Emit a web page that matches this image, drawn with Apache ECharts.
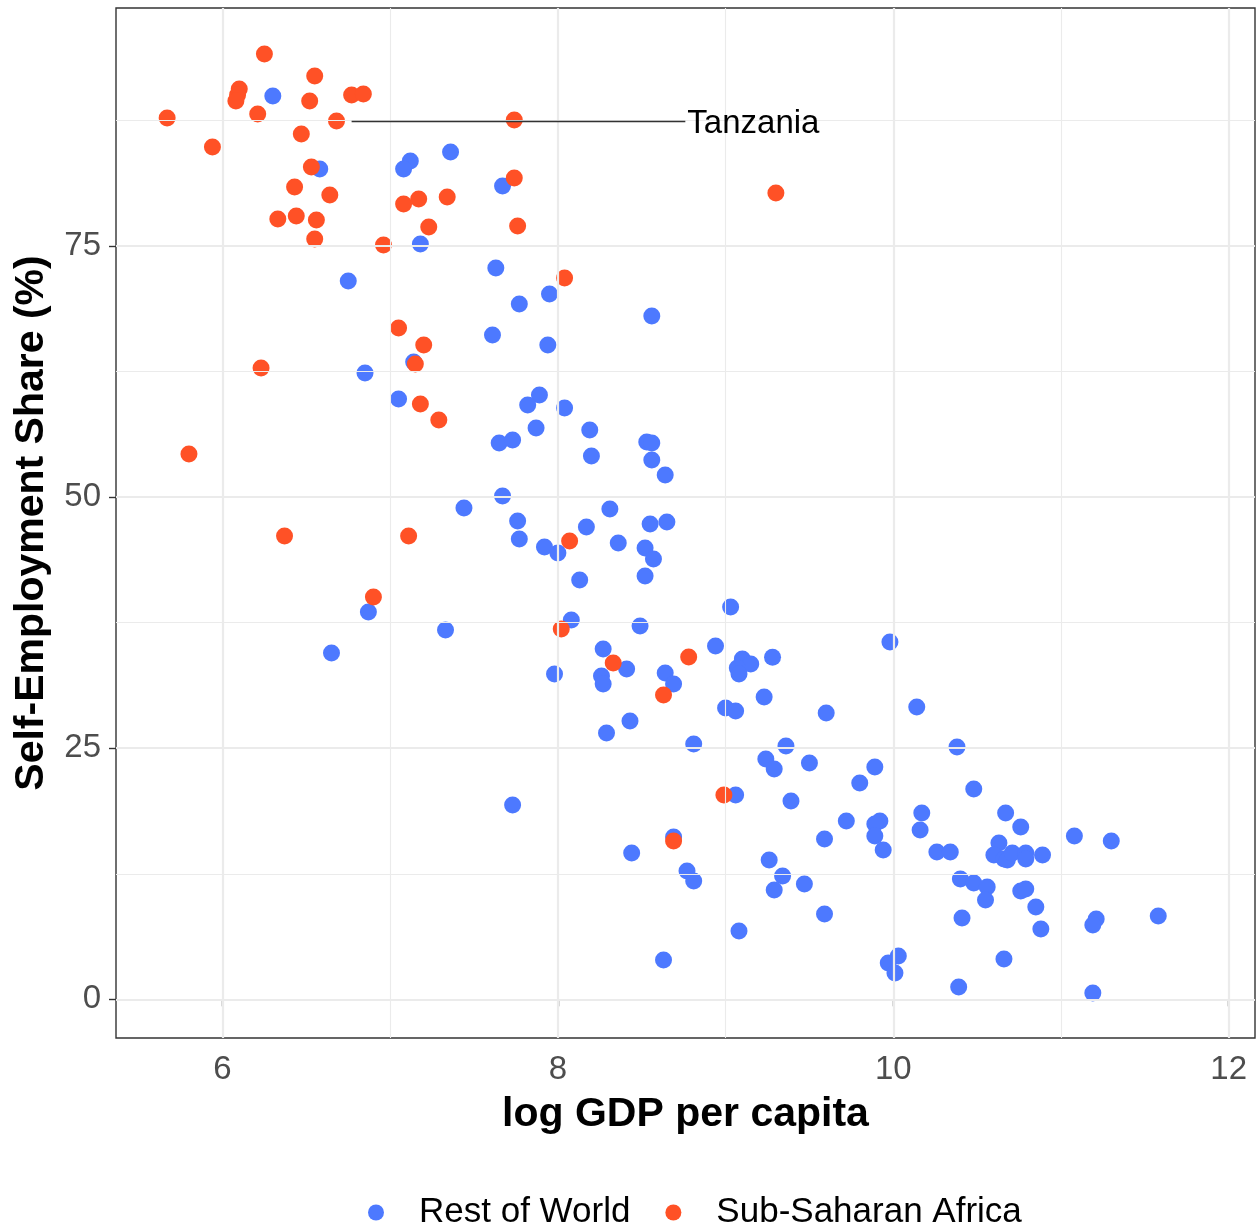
<!DOCTYPE html>
<html>
<head>
<meta charset="utf-8">
<script src="https://cdn.jsdelivr.net/npm/echarts@6/dist/echarts.min.js"></script>
<style>
  html, body { margin: 0; padding: 0; background: #ffffff; }
  #chart { width: 1257px; height: 1230px; }
</style>
</head>
<body>
<div id="chart"></div>
<script>
// [log GDP per capita, self-employment share %]
const subSaharanAfrica = [
  [5.67, 87.74], [5.94, 84.86], [6.25, 94.12], [6.10, 90.63], [6.09, 90.03],
  [6.08, 89.43], [6.21, 88.14], [6.47, 86.15], [6.52, 89.43], [6.55, 91.93],
  [6.77, 90.03], [6.84, 90.13], [6.68, 87.45], [7.74, 87.55], [6.53, 82.87],
  [6.43, 80.87], [6.64, 80.08], [6.33, 77.69], [6.44, 77.99], [6.56, 77.59],
  [6.55, 75.70], [6.96, 75.10], [7.08, 79.18], [7.17, 79.68], [7.34, 79.88],
  [7.23, 76.89], [7.74, 81.77], [7.76, 76.99], [8.04, 71.81], [9.30, 80.28],
  [7.05, 66.84], [7.20, 65.14], [7.15, 63.25], [7.18, 59.27], [7.29, 57.68],
  [6.23, 62.85], [5.80, 54.29], [6.37, 46.13], [7.11, 46.13], [6.90, 40.05],
  [8.07, 45.63], [8.02, 36.87], [8.33, 33.48], [8.78, 34.08], [8.63, 30.30],
  [8.99, 20.34], [8.69, 15.76]
];

const restOfWorld = [
  [6.30, 89.93], [6.58, 82.67], [7.36, 84.36], [7.12, 83.46], [7.08, 82.67],
  [7.67, 80.97], [7.18, 75.20], [6.75, 71.52], [7.63, 72.81], [7.95, 70.22],
  [7.77, 69.23], [8.56, 68.03], [7.61, 66.14], [7.94, 65.14], [7.14, 63.45],
  [6.85, 62.36], [7.05, 59.77], [7.89, 60.16], [7.82, 59.17], [8.04, 58.87],
  [7.87, 56.88], [8.19, 56.68], [7.65, 55.39], [7.73, 55.69], [8.20, 54.09],
  [8.53, 55.49], [8.56, 55.39], [8.56, 53.69], [8.64, 52.20], [7.67, 50.11],
  [7.44, 48.91], [8.31, 48.81], [7.76, 47.62], [7.77, 45.83], [8.17, 47.02],
  [8.55, 47.32], [8.65, 47.52], [7.92, 45.03], [8.00, 44.43], [8.36, 45.43],
  [8.52, 44.93], [8.57, 43.84], [8.52, 42.14], [8.13, 41.75], [9.03, 39.06],
  [7.33, 36.77], [6.87, 38.56], [6.65, 34.48], [8.08, 37.76], [8.49, 37.17],
  [8.27, 34.88], [8.41, 32.89], [8.26, 32.19], [8.27, 31.39], [7.98, 32.39],
  [8.64, 32.49], [8.69, 31.39], [8.94, 35.18], [9.10, 33.88], [9.15, 33.38],
  [9.07, 32.98], [9.08, 32.39], [9.28, 34.05], [9.23, 30.10], [9.00, 29.00],
  [9.06, 28.70], [9.60, 28.50], [8.43, 27.71], [8.29, 26.51], [8.81, 25.42],
  [9.36, 25.22], [9.24, 23.92], [9.29, 22.93], [9.50, 23.53], [9.80, 21.54],
  [9.89, 23.13], [9.98, 35.57], [10.14, 29.10], [10.38, 25.12], [10.48, 20.94],
  [9.06, 20.34], [9.39, 19.74], [7.73, 19.34], [9.72, 17.75], [9.92, 17.75],
  [9.89, 17.45], [9.89, 16.26], [9.94, 14.86], [10.17, 18.55], [10.16, 16.86],
  [9.59, 15.96], [8.69, 16.16], [8.44, 14.57], [10.67, 18.55], [10.76, 17.15],
  [11.08, 16.26], [11.30, 15.76], [10.26, 14.67], [10.34, 14.67], [10.63, 15.56],
  [10.60, 14.37], [10.66, 13.97], [10.68, 13.87], [10.71, 14.57], [10.79, 14.57],
  [10.79, 13.97], [10.89, 14.37], [8.77, 12.77], [8.81, 11.78], [9.26, 13.87],
  [9.34, 12.28], [9.29, 10.88], [9.47, 11.48], [9.59, 8.49], [9.08, 6.80],
  [8.63, 3.91], [10.40, 11.98], [10.48, 11.58], [10.56, 11.18], [10.55, 9.89],
  [10.76, 10.78], [10.79, 10.98], [10.85, 9.19], [10.88, 7.00], [10.41, 8.09],
  [11.21, 7.99], [11.19, 7.40], [11.58, 8.29], [10.66, 4.01], [10.03, 4.31],
  [9.97, 3.61], [10.01, 2.62], [10.39, 1.22], [11.19, 0.63]
];

// axis breaks
const xMajorBreaks = [6, 8, 10, 12];
const xMinorBreaks = [7, 9, 11];
const yMajorBreaks = [0, 25, 50, 75];
const yMinorBreaks = [12.5, 37.5, 62.5, 87.5];

// labelled country: index in subSaharanAfrica and where its label sits on the GDP axis
const tanzaniaIndex = 12;
const tanzaniaLabelGdp = 8.76;

const FONT = 'Liberation Sans, Arial, Helvetica, sans-serif';
const BLUE = '#4D79FF';
const RED = '#FF5126';

const gridLines = [];
xMajorBreaks.forEach(v => gridLines.push({ xAxis: v, lineStyle: { width: 2.2 } }));
xMinorBreaks.forEach(v => gridLines.push({ xAxis: v, lineStyle: { width: 1.1 } }));
yMajorBreaks.forEach(v => gridLines.push({ yAxis: v, lineStyle: { width: 2.2 } }));
yMinorBreaks.forEach(v => gridLines.push({ yAxis: v, lineStyle: { width: 1.1 } }));

const tz = subSaharanAfrica[tanzaniaIndex];

const chart = echarts.init(document.getElementById('chart'), null, { renderer: 'canvas' });
chart.setOption({
  animation: false,
  backgroundColor: '#ffffff',
  textStyle: { fontFamily: FONT },
  grid: {
    left: 116, top: 8, right: 2, bottom: 192,
    show: true, borderColor: '#333333', borderWidth: 1.4, backgroundColor: 'transparent'
  },
  xAxis: {
    type: 'value',
    min: 5.365, max: 12.157,
    name: 'log GDP per capita',
    nameLocation: 'middle',
    nameGap: 56,
    nameTextStyle: { fontSize: 41, fontWeight: 'bold', color: '#000', fontFamily: FONT },
    axisLine: { show: false },
    axisTick: { show: true, customValues: xMajorBreaks, length: 7, lineStyle: { color: '#333333', width: 1.4 } },
    axisLabel: { customValues: xMajorBreaks, fontSize: 33, color: '#4D4D4D', margin: 15, fontFamily: FONT },
    splitLine: { show: false }
  },
  yAxis: {
    type: 'value',
    min: -3.85, max: 98.7,
    name: 'Self-Employment Share (%)',
    nameLocation: 'middle',
    nameRotate: 90,
    nameGap: 64,
    nameTextStyle: { fontSize: 41, fontWeight: 'bold', color: '#000', fontFamily: FONT },
    axisLine: { show: false },
    axisTick: { show: true, customValues: yMajorBreaks, length: 7, lineStyle: { color: '#333333', width: 1.4 } },
    axisLabel: { customValues: yMajorBreaks, fontSize: 33, color: '#4D4D4D', margin: 15, fontFamily: FONT },
    splitLine: { show: false }
  },
  legend: {
    data: ['Rest of World', 'Sub-Saharan Africa'],
    left: 363,
    top: 1190,
    icon: 'circle',
    itemWidth: 76,
    itemHeight: 16,
    itemGap: 35,
    textStyle: { fontSize: 35, color: '#000', fontFamily: FONT }
  },
  series: [
    {
      name: 'panelGrid',
      type: 'scatter',
      data: [],
      silent: true,
      z: 1,
      markLine: {
        silent: true,
        symbol: ['none', 'none'],
        label: { show: false },
        lineStyle: { color: '#EBEBEB', type: 'solid' },
        data: gridLines
      }
    },
    {
      name: 'Rest of World',
      type: 'scatter',
      data: restOfWorld,
      symbol: 'circle',
      symbolSize: 17,
      itemStyle: { color: BLUE, opacity: 1 },
      z: 3
    },
    {
      name: 'Sub-Saharan Africa',
      type: 'scatter',
      data: subSaharanAfrica,
      symbol: 'circle',
      symbolSize: 17,
      itemStyle: { color: RED, opacity: 1 },
      z: 3,
      markLine: {
        silent: true,
        symbol: ['none', 'none'],
        lineStyle: { color: '#333333', width: 1.4, type: 'solid' },
        label: {
          show: true,
          position: 'end',
          distance: 2,
          offset: [0, 3],
          formatter: 'Tanzania',
          fontSize: 33,
          color: '#000',
          fontFamily: FONT
        },
        data: [[
          { coord: [tz[0] + 0.09, tz[1]] },
          { coord: [tanzaniaLabelGdp, tz[1]] }
        ]]
      }
    }
  ]
});
</script>
</body>
</html>
